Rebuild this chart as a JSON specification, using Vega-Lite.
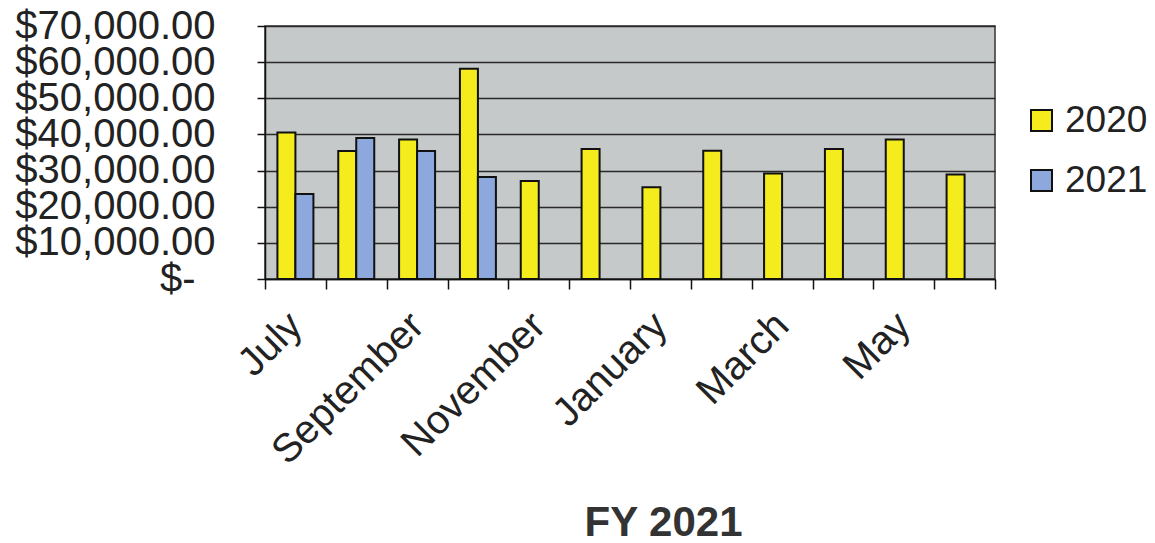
{
  "$schema": "https://vega.github.io/schema/vega-lite/v6.json",
  "autosize": {"type": "none"},
  "padding": {"left": 265, "top": 26, "right": 160, "bottom": 264},
  "width": 730,
  "height": 253,
  "background": "white",
  "config": {
    "font": "Liberation Sans",
    "view": {"fill": "#C6C9C9", "stroke": "#333333", "strokeWidth": 1.5}
  },
  "data": {
    "values": [
      {"month": "July", "year": "2020", "amount": 40500},
      {"month": "July", "year": "2021", "amount": 23500},
      {"month": "August", "year": "2020", "amount": 35400},
      {"month": "August", "year": "2021", "amount": 39000},
      {"month": "September", "year": "2020", "amount": 38600},
      {"month": "September", "year": "2021", "amount": 35400},
      {"month": "October", "year": "2020", "amount": 58200},
      {"month": "October", "year": "2021", "amount": 28200},
      {"month": "November", "year": "2020", "amount": 27100},
      {"month": "December", "year": "2020", "amount": 36000},
      {"month": "January", "year": "2020", "amount": 25400},
      {"month": "February", "year": "2020", "amount": 35500},
      {"month": "March", "year": "2020", "amount": 29200},
      {"month": "April", "year": "2020", "amount": 36000},
      {"month": "May", "year": "2020", "amount": 38600},
      {"month": "June", "year": "2020", "amount": 28900}
    ]
  },
  "mark": {"type": "bar", "stroke": "#111111", "strokeWidth": 2},
  "encoding": {
    "x": {
      "field": "month",
      "type": "nominal",
      "sort": ["July", "August", "September", "October", "November", "December", "January", "February", "March", "April", "May", "June"],
      "scale": {"paddingInner": 0, "paddingOuter": 0},
      "axis": {
        "title": "FY 2021",
        "titleFont": "Liberation Sans",
        "titleFontSize": 42,
        "titleFontWeight": "bold",
        "titleColor": "#333333",
        "titleX": 398,
        "titleY": 256,
        "titleBaseline": "alphabetic",
        "titleAnchor": "middle",
        "titleAlign": "center",
        "labelExpr": "indexof(['July','September','November','January','March','May'], datum.value) >= 0 ? datum.label : ''",
        "labelAngle": -45,
        "labelAlign": "right",
        "labelBaseline": "middle",
        "labelFontSize": 40,
        "labelColor": "#222222",
        "labelPadding": 30,
        "labelOffset": 0,
        "labelOverlap": false,
        "labelLimit": 0,
        "labelBound": false,
        "tickBand": "extent",
        "tickSize": 10,
        "tickColor": "#111111",
        "tickWidth": 1.5,
        "domainColor": "#111111",
        "domainWidth": 1.5,
        "grid": false
      }
    },
    "xOffset": {
      "field": "year",
      "type": "nominal",
      "scale": {"domain": ["2020", "2021"], "paddingInner": 0, "paddingOuter": 0.69}
    },
    "y": {
      "field": "amount",
      "type": "quantitative",
      "scale": {"domain": [0, 70000], "nice": false},
      "axis": {
        "title": null,
        "values": [0, 10000, 20000, 30000, 40000, 50000, 60000, 70000],
        "labelExpr": "datum.value === 0 ? '$-' : format(datum.value, '$,.2f')",
        "labelFontSize": 40,
        "labelColor": "#222222",
        "labelPadding": {"condition": {"test": "datum.value === 0", "value": 62}, "value": 42},
        "labelBaseline": "middle",
        "labelOverlap": false,
        "labelLimit": 0,
        "labelFlush": false,
        "labelBound": false,
        "tickSize": 8,
        "tickColor": "#111111",
        "tickWidth": 1.5,
        "domainColor": "#111111",
        "domainWidth": 1.5,
        "grid": true,
        "gridColor": "#2a2a2a",
        "gridWidth": 1.3
      }
    },
    "color": {
      "field": "year",
      "type": "nominal",
      "scale": {"domain": ["2020", "2021"], "range": ["#F4EC1C", "#8CA8DC"]},
      "legend": {
        "title": null,
        "orient": "none",
        "legendX": 758,
        "legendY": 76,
        "symbolType": "square",
        "symbolSize": 441,
        "symbolStrokeColor": "#111111",
        "symbolStrokeWidth": 2,
        "labelFontSize": 37,
        "labelColor": "#222222",
        "labelOffset": 5,
        "rowPadding": 22
      }
    }
  }
}
